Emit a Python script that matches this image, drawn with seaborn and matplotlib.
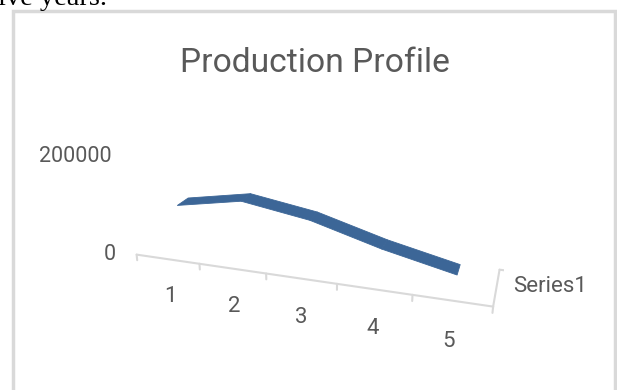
import matplotlib
matplotlib.use("Agg")
import numpy as np
import matplotlib.pyplot as plt
import seaborn as sns
from matplotlib.patches import Rectangle
from mpl_toolkits.mplot3d.art3d import Poly3DCollection

# ---- data ----
years = [1, 2, 3, 4, 5]
production = [92000, 116000, 94000, 55000, 24000]
series_name = "Series1"
value_ticks = [0, 200000]
title = "Production Profile"

sns.set_theme(style="white")
plt.rcParams["font.family"] = ["Roboto", "DejaVu Sans"]

text_color = "#595959"
line_color = "#d9d9d9"
ribbon_color = sns.color_palette(["#3c6697"])[0]

W, H = 617, 390
fig = plt.figure(figsize=(W / 100, H / 100), dpi=100)
ax = fig.add_axes([0.0, -0.06, 1.0, 1.0], projection="3d",
                  proj_type="persp", focal_length=0.33)
ax.set_axis_off()
x_lo, x_hi = 0.5, len(years) + 0.5
ax.set_xlim(x_lo, x_hi)
ax.set_ylim(0, 1)
ax.set_zlim(value_ticks[0], value_ticks[-1])
ax.set_box_aspect((5, 1.1, 1.47), zoom=0.97)
ax.view_init(elev=21, azim=-72)

# ribbon
x = np.array(years, dtype=float)
z = np.array(production, dtype=float)
y0, y1 = 0.35, 0.65
verts = [[(x[i], y0, z[i]), (x[i + 1], y0, z[i + 1]),
          (x[i + 1], y1, z[i + 1]), (x[i], y1, z[i])] for i in range(len(x) - 1)]
poly = Poly3DCollection(verts, facecolors=ribbon_color, edgecolors=ribbon_color, linewidths=0.6)
ax.add_collection3d(poly)

# category axis (floor front edge) with ticks
ax.plot([x_lo, x_hi], [0, 0], [0, 0], color=line_color, lw=1.5)
tick_len = 0.06 * value_ticks[-1]
for xt in np.arange(x_lo, x_hi + 0.01, 1.0):
    ax.plot([xt, xt], [0, 0], [0, -tick_len], color=line_color, lw=1.5)

# depth axis
ax.plot([x_hi, x_hi], [0, 1], [0, 0], color=line_color, lw=1.5)
ax.plot([x_hi, x_hi + 0.1], [1, 1], [0, 0], color=line_color, lw=1.5)

# ---- 2D labels placed at projected 3D anchor points ----
fig.canvas.draw()
M = ax.get_proj()


def to_px(xx, yy, zz):
    v = M @ np.array([xx, yy, zz, 1.0])
    return ax.transData.transform((v[0] / v[3], v[1] / v[3]))


def put(px, s, dx=0, dy=0, **kw):
    fig.text((px[0] + dx) / W, (px[1] + dy) / H, s, color=text_color, **kw)


for xi in years:
    put(to_px(xi, 0, -0.40 * value_ticks[-1]), str(xi), fontsize=16,
        ha="center", va="center")
for v, dx in zip(value_ticks, [-21, -15]):
    put(to_px(x_lo, 0, v), f"{v}", dx=dx, fontsize=15.5, ha="right", va="center")
put(to_px(x_hi, 0.5, 0), series_name, dx=17, dy=1, fontsize=16, ha="left", va="center")

fig.text(315 / W, 1 - 63 / H, title, color=text_color, fontsize=24.2,
         ha="center", va="center")

# chart border and the cut-off line of body text above the chart
fig.patches.append(Rectangle((13 / W, -0.2), 602 / W, 1.2 - 11 / H, fill=False,
                             edgecolor="#d9d9d9", lw=2.5, transform=fig.transFigure))
fig.text(-0.003, 1 - 5 / H, "ive years.", family=["Liberation Serif", "DejaVu Serif"],
         fontsize=20.5, color="black", ha="left", va="baseline")

fig.savefig("out.png", dpi=100)
